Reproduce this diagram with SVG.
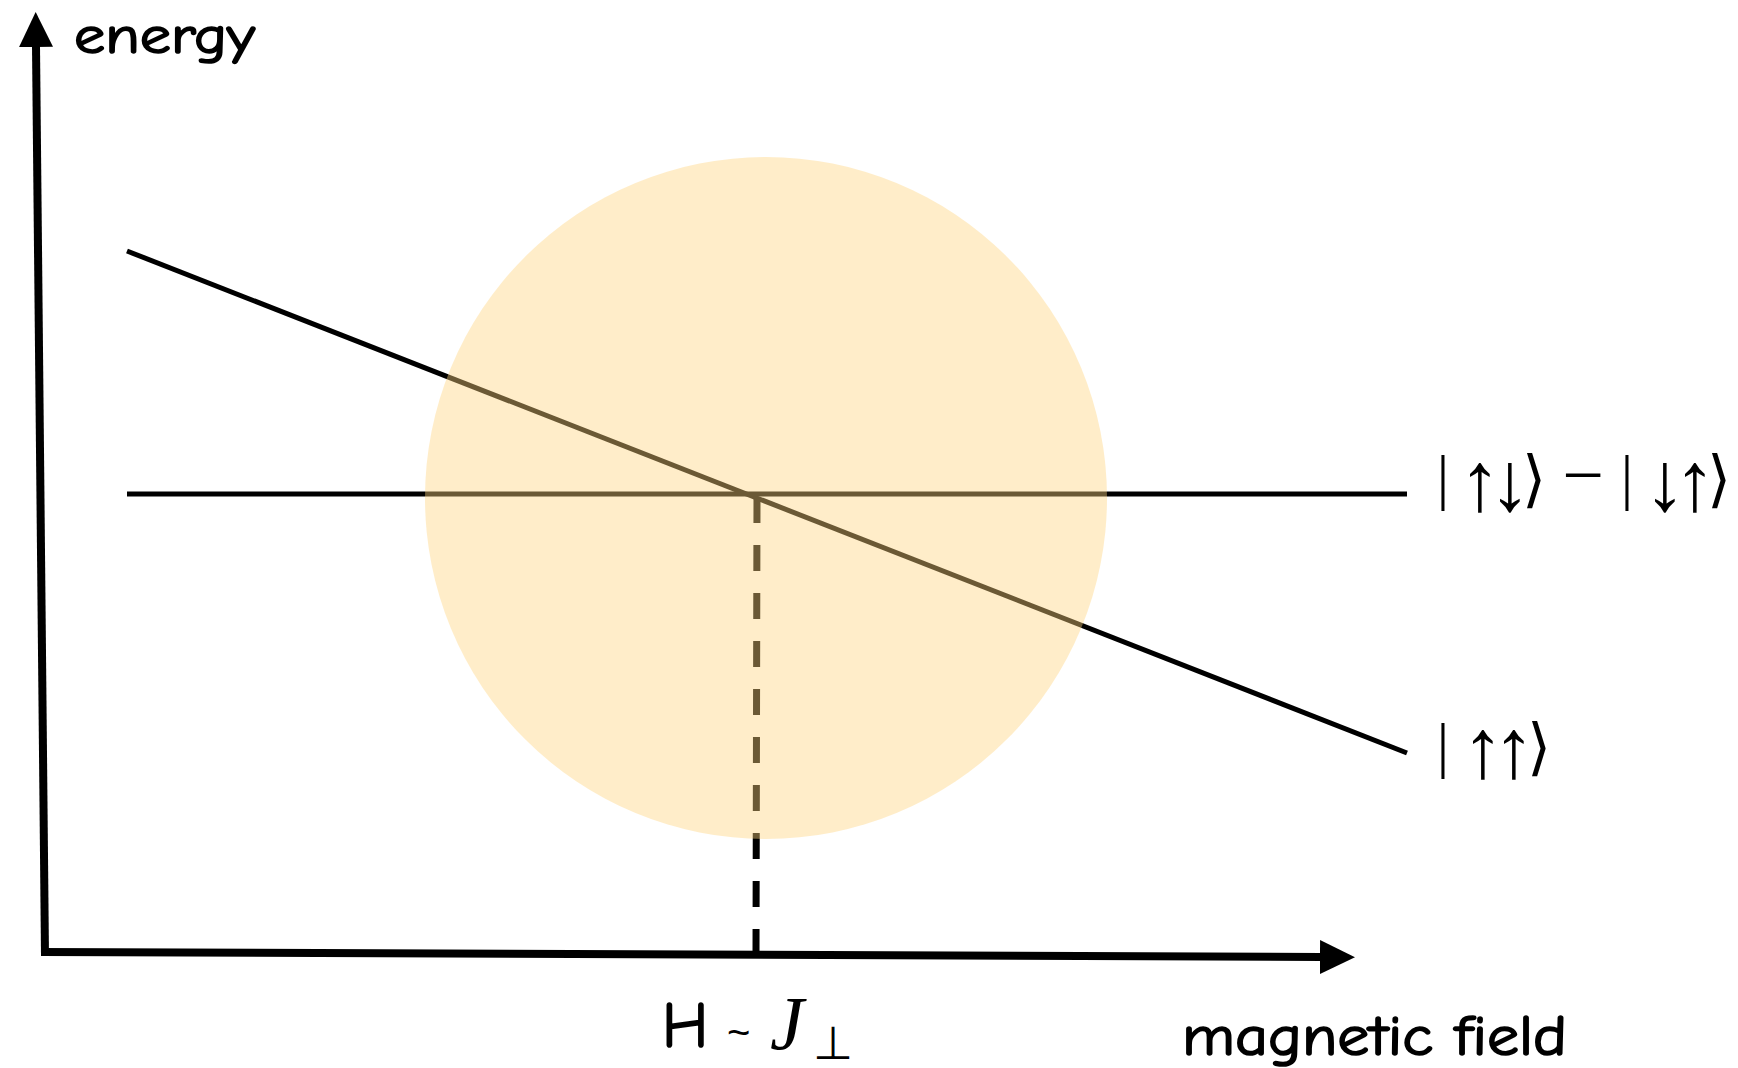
<svg xmlns="http://www.w3.org/2000/svg" width="1738" height="1068" viewBox="0 0 1738 1068">
  <style>
    .hand { font-family: "Comic Sans MS", "Comic Neue", "DejaVu Sans", sans-serif; fill: #000; stroke: #000; stroke-width: 1.6; }
    .ket { font-family: "Liberation Serif", "DejaVu Serif", serif; font-size: 62px; fill: #000; text-anchor: middle; }
    .arr { font-size: 84px; }
    .brk { font-family: "DejaVu Sans", "Noto Sans", sans-serif; font-weight: 200; }
    .axis { stroke: #000; stroke-width: 8; fill: none; }
    .level { stroke: #000; stroke-width: 5; fill: none; }
    .dash { stroke: #000; stroke-width: 7; fill: none; stroke-dasharray: 26 22; }
  </style>
  <defs>
    <marker id="head" markerUnits="userSpaceOnUse" markerWidth="36" markerHeight="36" viewBox="0 0 36 36" refX="1" refY="18" orient="auto">
      <path d="M0,1 L35,18 L0,35 Z" fill="#000"/>
    </marker>
  </defs>
  <rect width="1738" height="1068" fill="#fff"/>
  <g id="axes">
    <line class="axis" x1="45" y1="956" x2="36" y2="46" marker-end="url(#head)"/>
    <line class="axis" x1="41" y1="952" x2="1321" y2="957" marker-end="url(#head)"/>
  </g>
  <g id="connectors">
    <line class="level" x1="127" y1="494" x2="1407" y2="494"/>
    <line class="level" x1="127" y1="251" x2="1407" y2="753"/>
    <line class="dash" x1="757" y1="497" x2="756" y2="952"/>
  </g>
  <g id="region">
    <circle cx="766" cy="498" r="341" fill="#FFD37F" fill-opacity="0.42"/>
  </g>
  <g id="labels">
    <text class="hand" x="74" y="53" font-size="52" textLength="181" lengthAdjust="spacingAndGlyphs">energy</text>
    <text class="hand" x="1182" y="1055" font-size="56" textLength="385" lengthAdjust="spacingAndGlyphs">magnetic field</text>
    <text y="1047"><tspan class="hand" x="662" font-size="64">H</tspan><tspan x="727" y="1046" font-family="Liberation Sans, sans-serif" font-size="40">~</tspan><tspan x="770" y="1049" font-family="Liberation Serif, serif" font-style="italic" font-size="76">J</tspan><tspan x="813" y="1059" font-family="DejaVu Sans, sans-serif" font-size="46">⊥</tspan></text>
  </g>
  <g id="ket-singlet">
    <text class="ket"><tspan x="1443" y="498">|</tspan><tspan class="arr" x="1480" y="510">↑</tspan><tspan class="arr" x="1510" y="510">↓</tspan><tspan class="brk" x="1534" y="500">⟩</tspan><tspan x="1583" y="500" font-size="74">−</tspan><tspan x="1627" y="498">|</tspan><tspan class="arr" x="1665" y="510">↓</tspan><tspan class="arr" x="1695" y="510">↑</tspan><tspan class="brk" x="1719" y="500">⟩</tspan></text>
  </g>
  <g id="ket-triplet">
    <text class="ket"><tspan x="1443" y="766">|</tspan><tspan class="arr" x="1483" y="777">↑</tspan><tspan class="arr" x="1514" y="777">↑</tspan><tspan class="brk" x="1539" y="768">⟩</tspan></text>
  </g>
</svg>
